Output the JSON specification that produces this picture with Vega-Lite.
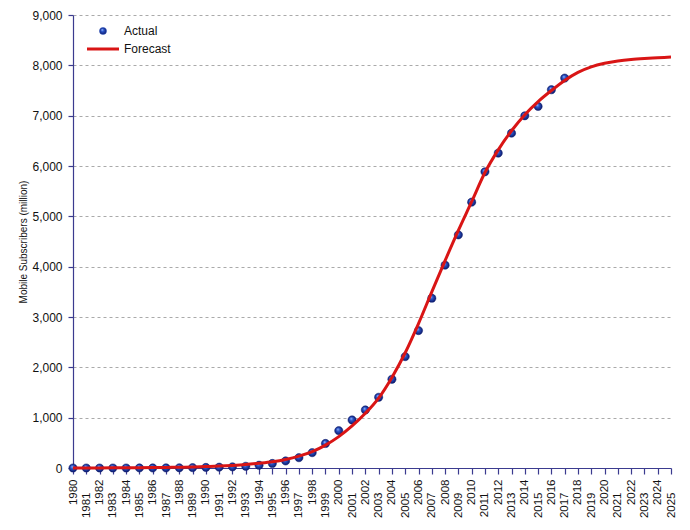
{
  "$schema": "https://vega.github.io/schema/vega-lite/v6.json",
  "width": 598,
  "height": 453,
  "autosize": {"type": "none"},
  "padding": {"left": 73, "top": 15, "right": 19, "bottom": 62},
  "background": "#ffffff",
  "datasets": {
    "actual": [
      {"year": 1980, "subscribers": 0}, {"year": 1981, "subscribers": 0},
      {"year": 1982, "subscribers": 0}, {"year": 1983, "subscribers": 0},
      {"year": 1984, "subscribers": 0}, {"year": 1985, "subscribers": 1},
      {"year": 1986, "subscribers": 1}, {"year": 1987, "subscribers": 2},
      {"year": 1988, "subscribers": 4}, {"year": 1989, "subscribers": 7},
      {"year": 1990, "subscribers": 11}, {"year": 1991, "subscribers": 16},
      {"year": 1992, "subscribers": 23}, {"year": 1993, "subscribers": 34},
      {"year": 1994, "subscribers": 55}, {"year": 1995, "subscribers": 90},
      {"year": 1996, "subscribers": 140}, {"year": 1997, "subscribers": 205},
      {"year": 1998, "subscribers": 305}, {"year": 1999, "subscribers": 487},
      {"year": 2000, "subscribers": 741}, {"year": 2001, "subscribers": 954},
      {"year": 2002, "subscribers": 1153}, {"year": 2003, "subscribers": 1405},
      {"year": 2004, "subscribers": 1763}, {"year": 2005, "subscribers": 2213},
      {"year": 2006, "subscribers": 2730}, {"year": 2007, "subscribers": 3373},
      {"year": 2008, "subscribers": 4030}, {"year": 2009, "subscribers": 4632},
      {"year": 2010, "subscribers": 5282}, {"year": 2011, "subscribers": 5885},
      {"year": 2012, "subscribers": 6256}, {"year": 2013, "subscribers": 6653},
      {"year": 2014, "subscribers": 6998}, {"year": 2015, "subscribers": 7183},
      {"year": 2016, "subscribers": 7515}, {"year": 2017, "subscribers": 7747}
    ],
    "forecast": [
      {"year": 1980, "subscribers": 1, "series": "Forecast"}, {"year": 1981, "subscribers": 1.5, "series": "Forecast"},
      {"year": 1982, "subscribers": 2, "series": "Forecast"}, {"year": 1983, "subscribers": 3, "series": "Forecast"},
      {"year": 1984, "subscribers": 4, "series": "Forecast"}, {"year": 1985, "subscribers": 6, "series": "Forecast"},
      {"year": 1986, "subscribers": 8, "series": "Forecast"}, {"year": 1987, "subscribers": 11, "series": "Forecast"},
      {"year": 1988, "subscribers": 15, "series": "Forecast"}, {"year": 1989, "subscribers": 20, "series": "Forecast"},
      {"year": 1990, "subscribers": 28, "series": "Forecast"}, {"year": 1991, "subscribers": 38, "series": "Forecast"},
      {"year": 1992, "subscribers": 52, "series": "Forecast"}, {"year": 1993, "subscribers": 70, "series": "Forecast"},
      {"year": 1994, "subscribers": 95, "series": "Forecast"}, {"year": 1995, "subscribers": 125, "series": "Forecast"},
      {"year": 1996, "subscribers": 170, "series": "Forecast"}, {"year": 1997, "subscribers": 235, "series": "Forecast"},
      {"year": 1998, "subscribers": 325, "series": "Forecast"}, {"year": 1999, "subscribers": 455, "series": "Forecast"},
      {"year": 2000, "subscribers": 623, "series": "Forecast"}, {"year": 2001, "subscribers": 835, "series": "Forecast"},
      {"year": 2002, "subscribers": 1087, "series": "Forecast"}, {"year": 2003, "subscribers": 1390, "series": "Forecast"},
      {"year": 2004, "subscribers": 1800, "series": "Forecast"}, {"year": 2005, "subscribers": 2290, "series": "Forecast"},
      {"year": 2006, "subscribers": 2870, "series": "Forecast"}, {"year": 2007, "subscribers": 3500, "series": "Forecast"},
      {"year": 2008, "subscribers": 4120, "series": "Forecast"}, {"year": 2009, "subscribers": 4720, "series": "Forecast"},
      {"year": 2010, "subscribers": 5290, "series": "Forecast"}, {"year": 2011, "subscribers": 5870, "series": "Forecast"},
      {"year": 2012, "subscribers": 6320, "series": "Forecast"}, {"year": 2013, "subscribers": 6700, "series": "Forecast"},
      {"year": 2014, "subscribers": 7020, "series": "Forecast"}, {"year": 2015, "subscribers": 7280, "series": "Forecast"},
      {"year": 2016, "subscribers": 7500, "series": "Forecast"}, {"year": 2017, "subscribers": 7700, "series": "Forecast"},
      {"year": 2018, "subscribers": 7860, "series": "Forecast"}, {"year": 2019, "subscribers": 7970, "series": "Forecast"},
      {"year": 2020, "subscribers": 8040, "series": "Forecast"}, {"year": 2021, "subscribers": 8085, "series": "Forecast"},
      {"year": 2022, "subscribers": 8115, "series": "Forecast"}, {"year": 2023, "subscribers": 8135, "series": "Forecast"},
      {"year": 2024, "subscribers": 8150, "series": "Forecast"}, {"year": 2025, "subscribers": 8165, "series": "Forecast"}
    ]
  },
  "encoding": {
    "x": {
      "field": "year",
      "type": "quantitative",
      "scale": {"domain": [1980, 2025], "nice": false, "zero": false},
      "axis": {
        "title": null,
        "values": [1980, 1981, 1982, 1983, 1984, 1985, 1986, 1987, 1988, 1989, 1990, 1991, 1992, 1993, 1994, 1995, 1996, 1997, 1998, 1999, 2000, 2001, 2002, 2003, 2004, 2005, 2006, 2007, 2008, 2009, 2010, 2011, 2012, 2013, 2014, 2015, 2016, 2017, 2018, 2019, 2020, 2021, 2022, 2023, 2024, 2025],
        "format": "d",
        "labelAngle": -90,
        "labelOverlap": false,
        "labelFlush": false,
        "labelPadding": {"condition": {"test": "datum.value % 2 == 1", "value": 18}, "value": 5},
        "labelFontSize": 11.5,
        "tickSize": 6,
        "grid": false
      }
    },
    "y": {
      "field": "subscribers",
      "type": "quantitative",
      "scale": {"domain": [0, 9000], "nice": false},
      "axis": {
        "title": "Mobile Subscribers (million)",
        "values": [0, 1000, 2000, 3000, 4000, 5000, 6000, 7000, 8000, 9000],
        "format": ",d",
        "labelFontSize": 12,
        "labelPadding": 6,
        "tickSize": 5,
        "titleFontSize": 10,
        "titleFontWeight": "normal",
        "titlePadding": 3,
        "grid": true,
        "gridColor": "#aaaaaa",
        "gridDash": [3, 3],
        "gridWidth": 1
      }
    }
  },
  "layer": [
    {
      "data": {"name": "actual"},
      "mark": {
        "type": "point",
        "shape": "circle",
        "filled": true,
        "size": 68,
        "opacity": 1,
        "fill": {
          "gradient": "radial",
          "x1": 0.38, "y1": 0.32, "r1": 0,
          "x2": 0.5, "y2": 0.5, "r2": 0.55,
          "stops": [
            {"offset": 0, "color": "#a9c6ff"},
            {"offset": 0.35, "color": "#2c57cc"},
            {"offset": 1, "color": "#08125e"}
          ]
        },
        "stroke": "#0d1a6e",
        "strokeWidth": 0.5
      }
    },
    {
      "data": {"name": "forecast"},
      "mark": {"type": "line", "strokeWidth": 3, "interpolate": "monotone"},
      "encoding": {
        "color": {
          "field": "series",
          "type": "nominal",
          "scale": {"domain": ["Actual", "Forecast"], "range": ["#2a55c8", "#d91515"]},
          "legend": {
            "title": null,
            "orient": "none",
            "legendX": 24,
            "legendY": 10,
            "padding": 0,
            "symbolSize": 100,
            "labelOffset": 15,
            "labelFontSize": 12,
            "rowPadding": 6,
            "encode": {
              "symbols": {
                "update": {
                  "shape": {"signal": "datum.value === 'Actual' ? 'circle' : 'stroke'"},
                  "size": {"signal": "datum.value === 'Actual' ? 50 : 1024"},
                  "fill": [
                    {
                      "test": "datum.value === 'Actual'",
                      "value": {
                        "gradient": "radial",
                        "x1": 0.38, "y1": 0.32, "r1": 0,
                        "x2": 0.5, "y2": 0.5, "r2": 0.55,
                        "stops": [
                          {"offset": 0, "color": "#a9c6ff"},
                          {"offset": 0.35, "color": "#2c57cc"},
                          {"offset": 1, "color": "#08125e"}
                        ]
                      }
                    },
                    {"value": "transparent"}
                  ],
                  "stroke": {"signal": "datum.value === 'Actual' ? '#0d1a6e' : '#d91515'"},
                  "strokeWidth": {"signal": "datum.value === 'Actual' ? 0.5 : 3"},
                  "opacity": {"value": 1}
                }
              }
            }
          }
        }
      }
    }
  ],
  "config": {
    "view": {"stroke": null},
    "font": "Liberation Sans",
    "axis": {
      "domainColor": "#3b3b8f",
      "domainWidth": 1.2,
      "tickColor": "#3b3b8f",
      "tickWidth": 1.2,
      "labelColor": "#111111",
      "titleColor": "#111111",
      "labelFont": "Liberation Sans",
      "titleFont": "Liberation Sans"
    },
    "legend": {"labelColor": "#111111", "labelFont": "Liberation Sans"}
  }
}
